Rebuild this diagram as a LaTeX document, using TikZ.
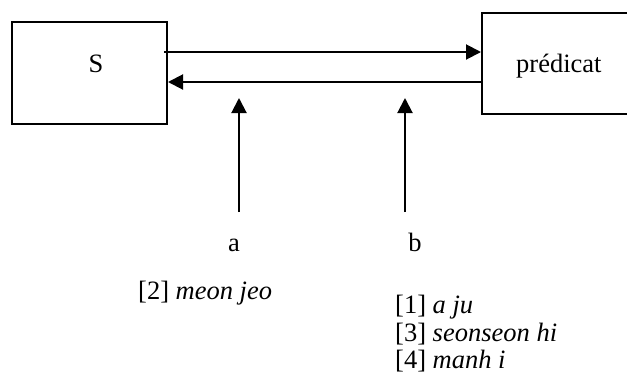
\documentclass[tikz,border=0pt]{standalone}
\usepackage{fontspec}
\setmainfont{Liberation Serif}
\usetikzlibrary{arrows.meta,calc}
\begin{document}
\begin{tikzpicture}[x=1pt,y=-1pt,
  box/.style={draw, line width=2pt, inner sep=0pt, anchor=north west},
  lbl/.style={font=\fontsize{26.5}{28}\selectfont, inner sep=0pt, anchor=base},
  lst/.style={lbl, anchor=base west},
  arr/.style={line width=2pt, -{Triangle[length=15pt,width=15pt]}}]
\useasboundingbox (0,0) rectangle (627,376);
\clip (0,0) rectangle (627,376);
\node[box, minimum width=155pt, minimum height=102pt] (s) at (11,21) {};
\node[box, minimum width=250pt, minimum height=101pt] (p) at (481,12) {};
\node[lbl] (stext) at (96,72) {S};
\node[lst] (ptext) at (516,72) {prédicat};
\coordinate (u1) at ($(s.north east)+(-4,31)$);
\coordinate (u2) at ($(p.north west)+(0,40)$);
\coordinate (l1) at ($(p.north west)+(0,70)$);
\coordinate (l2) at ($(s.north east)+(0,61)$);
\draw[arr] (u1) -- (u2);
\draw[arr] (l1) -- (l2);
\coordinate (a1) at (239,212);
\coordinate (a2) at (239,98);
\coordinate (b1) at (405,212);
\coordinate (b2) at (405,98);
\draw[arr] (a1) -- (a2);
\draw[arr] (b1) -- (b2);
\node[lbl] (la) at (234,251) {a};
\node[lbl] (lb) at (415,251) {b};
\node[lst] (m2) at (138,299) {[2] \textit{meon jeo}};
\node[lst] (m1) at (395,313) {[1] \textit{a ju}};
\node[lst] (m3) at (395,341) {[3] \textit{seonseon hi}};
\node[lst] (m4) at (395,368) {[4] \textit{manh i}};
\end{tikzpicture}
\end{document}
